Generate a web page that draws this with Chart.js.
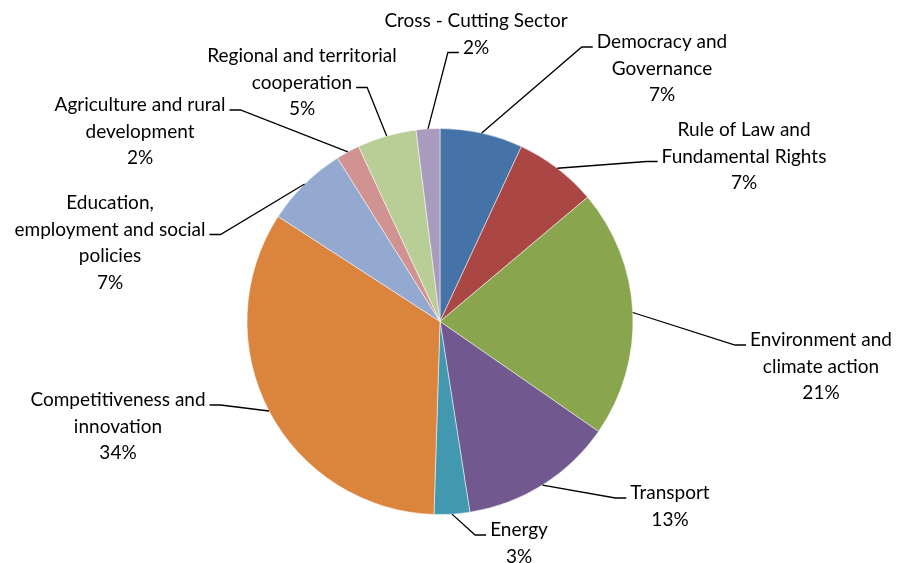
<!DOCTYPE html>
<html>
<head>
<meta charset="utf-8">
<script src="https://cdn.jsdelivr.net/npm/chart.js@4"></script>
<style>
  html, body { margin: 0; padding: 0; background: #fff; }
  #wrap { width: 897px; height: 563px; }
</style>
</head>
<body>
<div id="wrap"><canvas id="myChart"></canvas></div>
<script>
// funding split by sector (%)
const sectors = [
  ['Democracy and', 'Governance'],
  ['Rule of Law and', 'Fundamental Rights'],
  ['Environment and', 'climate action'],
  ['Transport'],
  ['Energy'],
  ['Competitiveness and', 'innovation'],
  ['Education,', 'employment and social', 'policies'],
  ['Agriculture and rural', 'development'],
  ['Regional and territorial', 'cooperation'],
  ['Cross - Cutting Sector']
];
const shares = [7, 7, 21, 13, 3, 34, 7, 2, 5, 2];
const sliceColors = ['#4572A7', '#AA4643', '#89A54E', '#71588F', '#4198AF',
                     '#DB843D', '#93A9CF', '#D19392', '#B9CD96', '#A99BBD'];

// where each label block sits: centre x, centre y of first line, line the leader meets
const labelPos = [
  { x: 662, y: 42, attach: 0 },
  { x: 744, y: 130, attach: 1 },
  { x: 821, y: 340, attach: 0 },
  { x: 670, y: 493, attach: 0 },
  { x: 519, y: 530, attach: 0 },
  { x: 118, y: 400, attach: 0 },
  { x: 110, y: 203, attach: 1 },
  { x: 140, y: 105, attach: 0 },
  { x: 302, y: 56, attach: 1 },
  { x: 476, y: 21, attach: 1 }
];

const LINE_H = 26.5;
const FONT = '19px Lato, "Open Sans", sans-serif';

const calloutLabels = {
  id: 'calloutLabels',
  afterDraw(chart) {
    const ctx = chart.ctx;
    const arcs = chart.getDatasetMeta(0).data;
    ctx.save();
    ctx.font = FONT;
    ctx.fillStyle = '#000';
    ctx.strokeStyle = '#000';
    ctx.lineWidth = 1.3;
    ctx.textAlign = 'center';
    ctx.textBaseline = 'middle';
    arcs.forEach((arc, i) => {
      const pos = labelPos[i];
      const lines = sectors[i].concat([shares[i] + '%']);
      lines.forEach((t, k) => ctx.fillText(t, pos.x, pos.y + k * LINE_H));

      const mid = (arc.startAngle + arc.endAngle) / 2;
      const px = arc.x + Math.cos(mid) * arc.outerRadius;
      const py = arc.y + Math.sin(mid) * arc.outerRadius;
      const w = ctx.measureText(lines[pos.attach]).width;
      const ly = pos.y + pos.attach * LINE_H + 5;
      let edge, elbow;
      if (pos.x > px) {
        edge = pos.x - w / 2 - 4;
        elbow = edge - 11;
      } else {
        edge = pos.x + w / 2 + 4;
        elbow = edge + 11;
      }
      ctx.beginPath();
      ctx.moveTo(edge, ly);
      ctx.lineTo(elbow, ly);
      ctx.lineTo(px, py);
      ctx.stroke();
    });
    ctx.restore();
  }
};

const ctx = document.getElementById('myChart');

new Chart(ctx, {
  type: 'pie',
  data: {
    labels: sectors.map(s => s.join(' ')),
    datasets: [{
      data: shares,
      backgroundColor: sliceColors,
      borderColor: 'rgba(255,255,255,0.5)',
      borderWidth: 1
    }]
  },
  options: {
    responsive: true,
    maintainAspectRatio: false,
    animation: false,
    layout: {
      padding: { left: 246.5, right: 263.5, top: 128, bottom: 48 }
    },
    plugins: {
      legend: { display: false },
      tooltip: { enabled: false }
    }
  },
  plugins: [calloutLabels]
});
</script>
</body>
</html>
